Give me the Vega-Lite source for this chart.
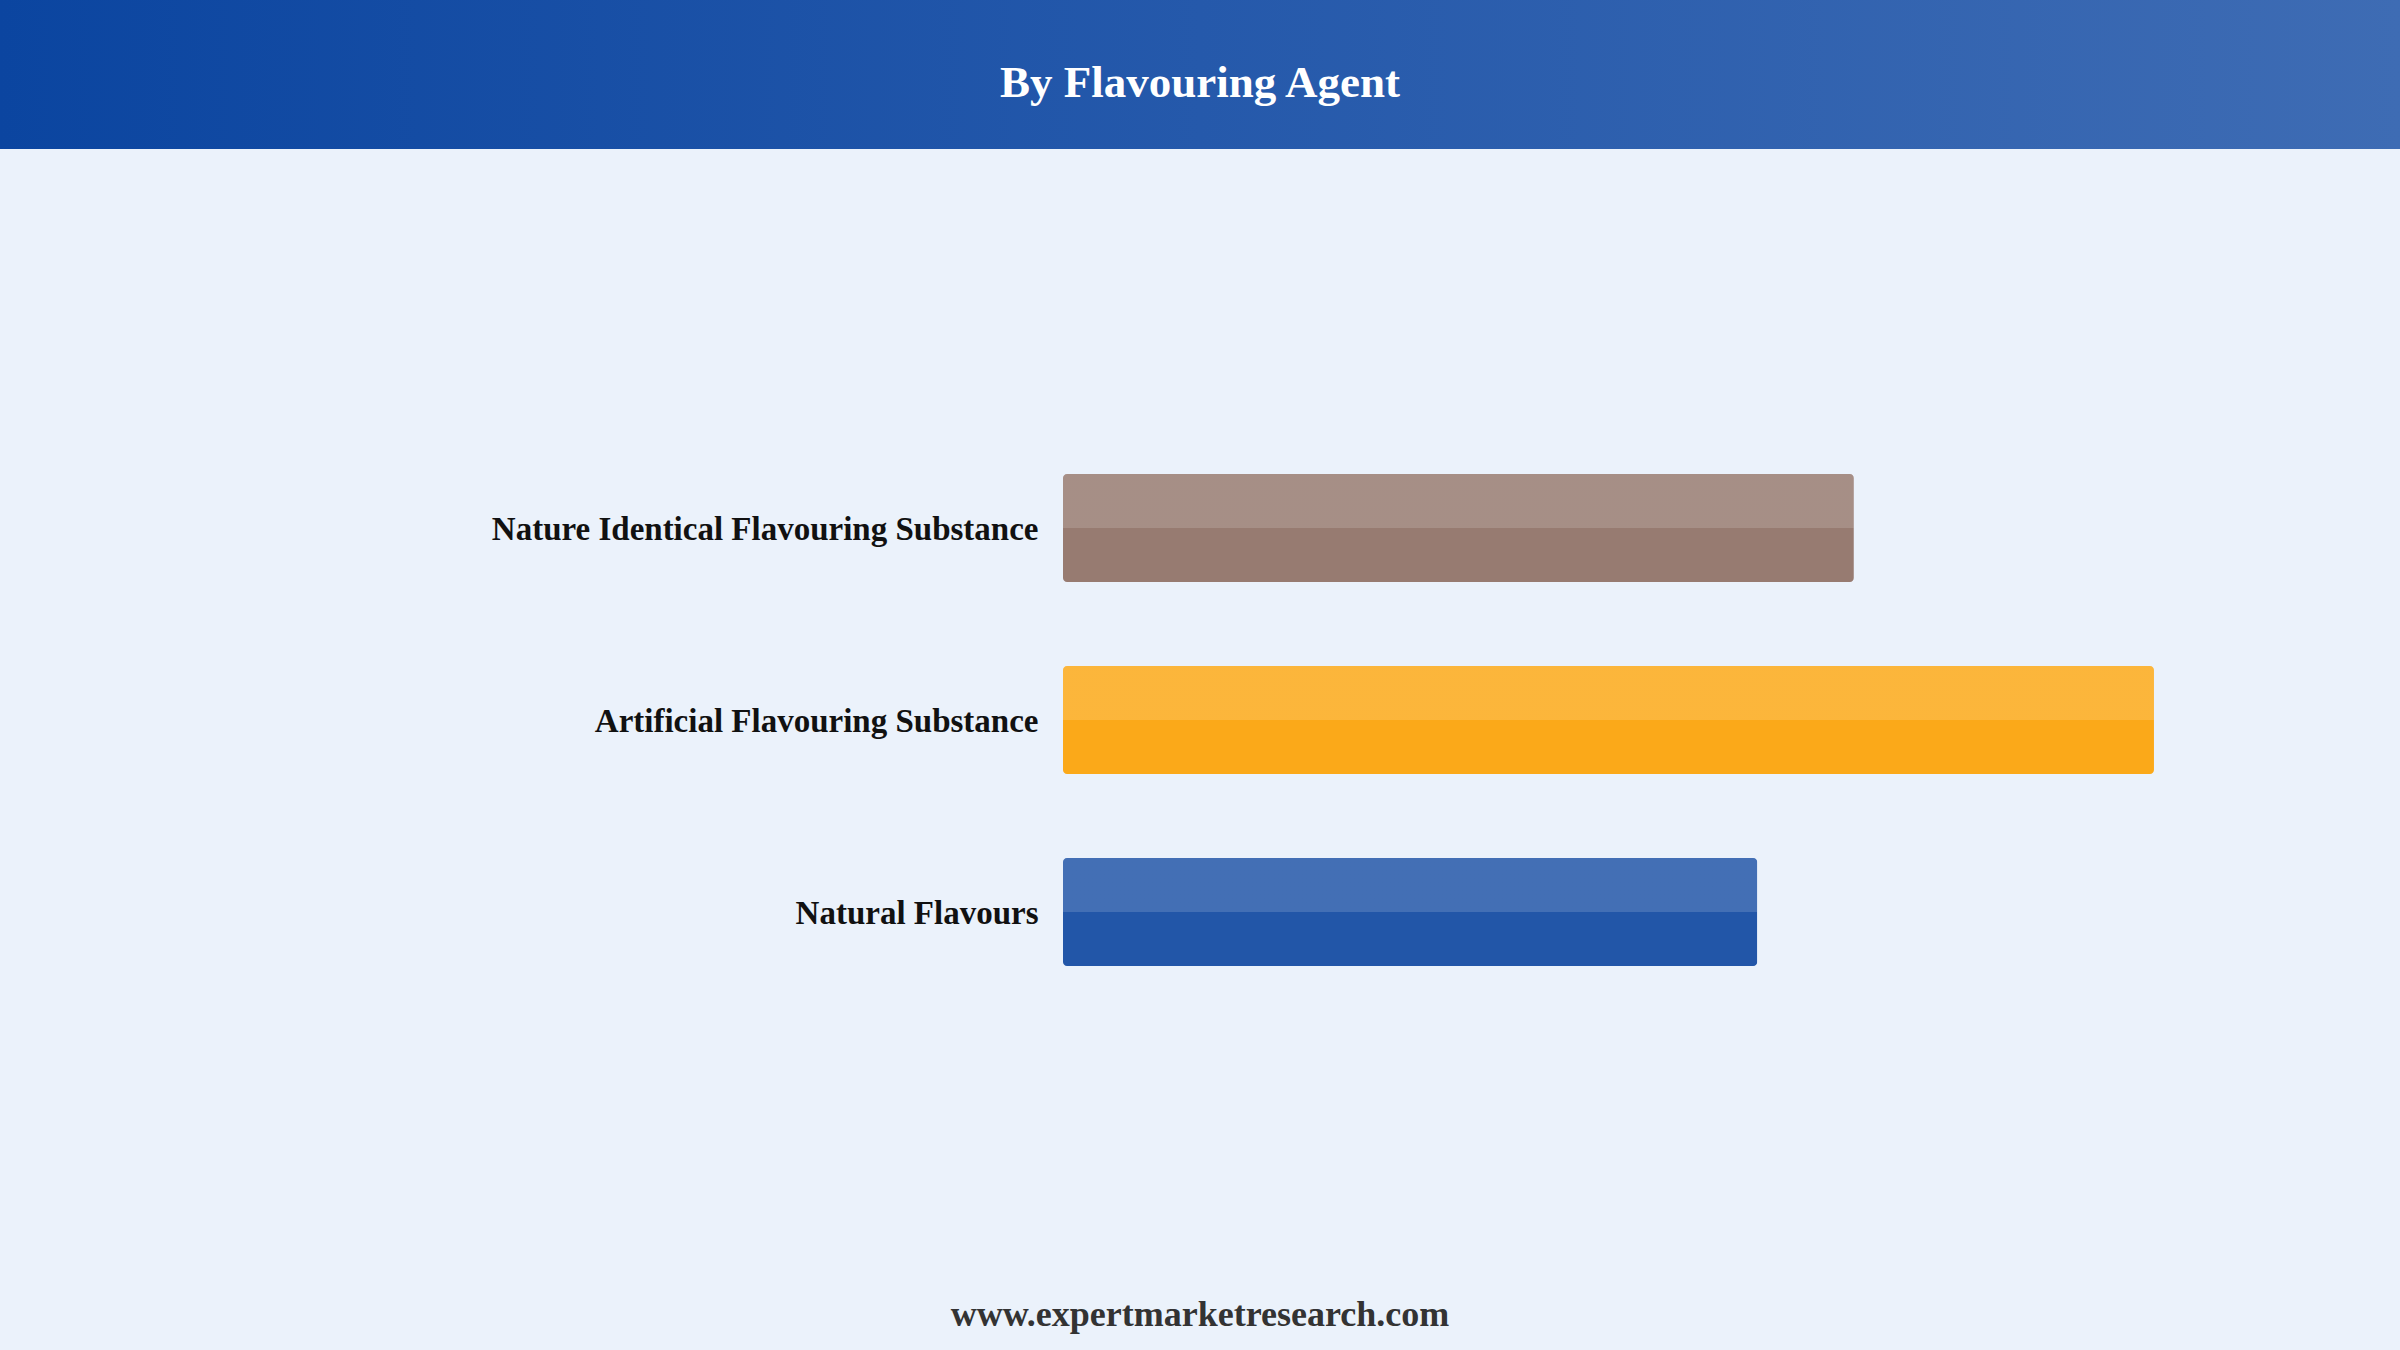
{
  "$schema": "https://vega.github.io/schema/vega-lite/v6.json",
  "background": "#ebf2fb",
  "padding": 0,
  "spacing": 0,
  "config": {"view": {"stroke": null}, "concat": {"spacing": 0}},
  "vconcat": [
    {
      "width": 2400,
      "height": 149,
      "data": {"values": [{"title": "By Flavouring Agent"}]},
      "layer": [
        {
          "mark": {
            "type": "rect",
            "fill": {
              "gradient": "linear",
              "x1": 0, "y1": 0, "x2": 1, "y2": 0,
              "stops": [
                {"offset": 0, "color": "#0b45a0"},
                {"offset": 0.5, "color": "#2559ab"},
                {"offset": 1, "color": "#3e6cb4"}
              ]
            }
          },
          "encoding": {
            "x": {"datum": 0, "type": "quantitative", "scale": {"domain": [0, 1], "nice": false, "zero": false}, "axis": null},
            "x2": {"datum": 1},
            "y": {"datum": 0, "type": "quantitative", "scale": {"domain": [0, 1], "nice": false, "zero": false}, "axis": null},
            "y2": {"datum": 1}
          }
        },
        {
          "mark": {"type": "text", "font": "Liberation Serif", "fontSize": 45, "fontWeight": "bold", "color": "#ffffff", "align": "center", "baseline": "alphabetic"},
          "encoding": {
            "x": {"datum": 0.5, "type": "quantitative"},
            "y": {"datum": 0.35, "type": "quantitative"},
            "text": {"field": "title"}
          }
        }
      ]
    },
    {
      "width": 2400,
      "height": 1142,
      "data": {
        "values": [
          {"category": "Nature Identical Flavouring Substance", "share": 30.7},
          {"category": "Artificial Flavouring Substance", "share": 42.35},
          {"category": "Natural Flavours", "share": 26.95}
        ]
      },
      "encoding": {
        "y": {
          "field": "category",
          "type": "nominal",
          "sort": null,
          "scale": {
            "domain": ["Nature Identical Flavouring Substance", "Artificial Flavouring Substance", "Natural Flavours"],
            "range": [229, 913],
            "paddingInner": 0.4375,
            "paddingOuter": 0.5
          },
          "axis": {
            "title": null,
            "orient": "left",
            "offset": -1063,
            "domain": false,
            "ticks": false,
            "tickSize": 0,
            "grid": false,
            "labelPadding": 25,
            "labelOffset": 2,
            "labelFont": "Liberation Serif",
            "labelFontSize": 33,
            "labelFontWeight": "bold",
            "labelColor": "#111111",
            "labelLimit": 1000
          }
        },
        "x": {
          "field": "share",
          "type": "quantitative",
          "scale": {"domain": [0, 51.9], "range": [1063, 2400], "nice": false, "zero": true},
          "axis": null
        }
      },
      "layer": [
        {
          "mark": {"type": "bar", "cornerRadius": 4},
          "encoding": {
            "color": {
              "field": "category",
              "type": "nominal",
              "scale": {
                "domain": ["Nature Identical Flavouring Substance", "Artificial Flavouring Substance", "Natural Flavours"],
                "range": ["#977b71", "#fba919", "#2256a8"]
              },
              "legend": null
            }
          }
        },
        {
          "mark": {
            "type": "bar",
            "cornerRadius": 4,
            "fill": {
              "gradient": "linear",
              "x1": 0, "y1": 0, "x2": 0, "y2": 1,
              "stops": [
                {"offset": 0, "color": "rgba(255,255,255,0.15)"},
                {"offset": 0.5, "color": "rgba(255,255,255,0.15)"},
                {"offset": 0.5, "color": "rgba(255,255,255,0)"},
                {"offset": 1, "color": "rgba(255,255,255,0)"}
              ]
            }
          }
        }
      ]
    },
    {
      "width": 2400,
      "height": 59,
      "data": {"values": [{"site": "www.expertmarketresearch.com"}]},
      "mark": {"type": "text", "font": "Liberation Serif", "fontSize": 36, "fontWeight": "bold", "color": "#333333", "align": "center", "baseline": "alphabetic"},
      "encoding": {
        "x": {"datum": 0.5, "type": "quantitative", "scale": {"domain": [0, 1], "nice": false, "zero": false}, "axis": null},
        "y": {"datum": 0.41, "type": "quantitative", "scale": {"domain": [0, 1], "nice": false, "zero": false}, "axis": null},
        "text": {"field": "site"}
      }
    }
  ]
}
